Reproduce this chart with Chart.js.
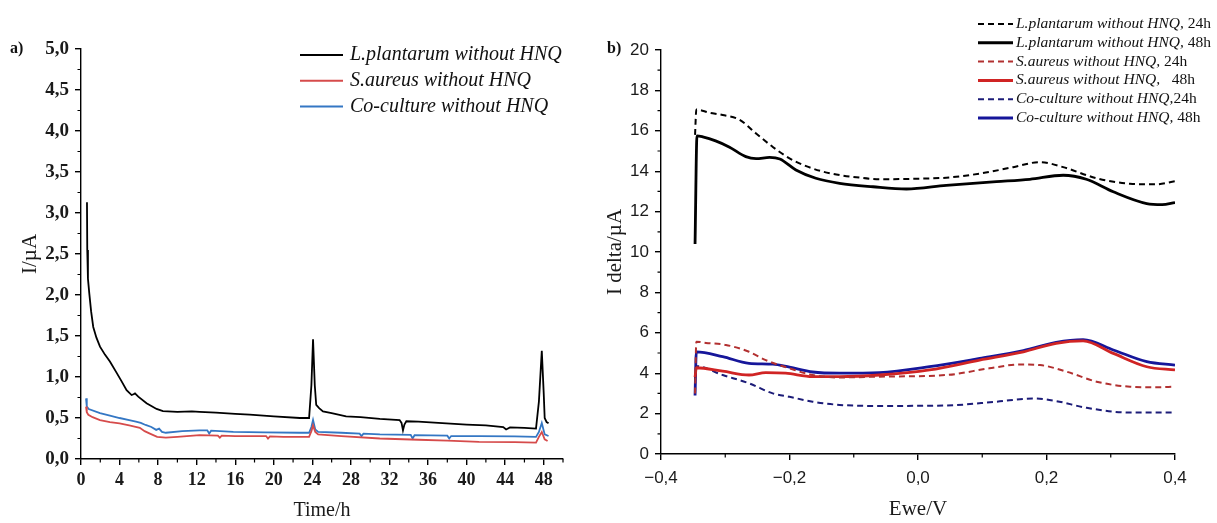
<!DOCTYPE html>
<html>
<head>
<meta charset="utf-8">
<title>Chronoamperometry and DPV without HNQ</title>
<script src="https://cdn.jsdelivr.net/npm/chart.js"></script>
<style>
  html, body { margin: 0; padding: 0; background: #fff; }
  #wrap { position: relative; width: 1217px; height: 523px; }
  #chartA { position: absolute; left: 0; top: 0; }
  #chartB { position: absolute; left: 600px; top: 0; }
</style>
</head>
<body>
<div id="wrap">
  <canvas id="chartA" width="600" height="523"></canvas>
  <canvas id="chartB" width="617" height="523"></canvas>
</div>
<script>
// ---- panel a: current vs time (h, uA) ----
const lpTime = [0.62, 0.65, 0.72, 0.86, 1.05, 1.27, 1.6, 1.97, 2.5, 3.0, 3.7, 4.2, 4.73, 5.25, 5.45, 5.6, 5.94, 6.8, 7.84, 8.5,
  10, 11.5, 12.3, 14, 16, 17.5, 20, 22.7, 23.66, 23.9, 24.07, 24.25, 24.4, 24.7, 25.1, 26, 27.5, 29, 31, 33.05,
  33.25, 33.4, 33.55, 33.75, 35, 37.9, 40, 42, 43.8, 44.1, 44.5, 46, 47.2, 47.5, 47.8, 48.0, 48.1, 48.3, 48.5];
const lpCurrent = [3.13, 2.55, 2.2, 2.02, 1.8, 1.61, 1.48, 1.37, 1.27, 1.19, 1.05, 0.95, 0.84, 0.78, 0.79, 0.80, 0.76, 0.68, 0.61, 0.585,
  0.575, 0.58, 0.575, 0.565, 0.55, 0.54, 0.52, 0.50, 0.50, 0.9, 1.46, 0.9, 0.66, 0.62, 0.58, 0.56, 0.52, 0.51, 0.49, 0.475,
  0.44, 0.35, 0.42, 0.46, 0.455, 0.435, 0.42, 0.41, 0.39, 0.36, 0.385, 0.38, 0.37, 0.7, 1.32, 0.8, 0.5, 0.45, 0.435];

const saTime = [0.52, 0.6, 0.76, 1.2, 1.97, 3.0, 4.0, 5.0, 6.1, 6.6, 7.15, 7.9, 8.8, 10, 12.3, 14.2, 14.4, 14.6, 16, 19.2,
  19.4, 19.6, 21, 23.66, 23.9, 24.07, 24.3, 24.6, 27, 31, 35, 38, 41.3, 45, 47.2, 47.5, 47.8, 48.1, 48.4];
const saCurrent = [0.64, 0.57, 0.54, 0.51, 0.475, 0.45, 0.435, 0.41, 0.38, 0.34, 0.31, 0.27, 0.26, 0.27, 0.29, 0.285, 0.26, 0.285, 0.28, 0.28,
  0.25, 0.275, 0.27, 0.27, 0.34, 0.41, 0.33, 0.30, 0.28, 0.25, 0.235, 0.225, 0.21, 0.205, 0.20, 0.27, 0.33, 0.24, 0.22];

const ccTime = [0.52, 0.6, 0.8, 1.97, 3.0, 4.0, 5.0, 5.7, 6.2, 6.7, 7.3, 7.8, 8.1, 8.4, 8.8, 10.5, 12.3, 13.1, 13.3, 13.5,
  15.8, 19, 22.7, 23.66, 23.9, 24.07, 24.3, 24.6, 27, 28.9, 29.1, 29.3, 31, 34.2, 34.4, 34.6, 38.0, 38.2, 38.4, 41.3,
  45, 47.2, 47.5, 47.8, 48.1, 48.5];
const ccCurrent = [0.74, 0.64, 0.61, 0.56, 0.53, 0.50, 0.475, 0.455, 0.44, 0.415, 0.39, 0.355, 0.37, 0.33, 0.32, 0.34, 0.35, 0.35, 0.31, 0.345,
  0.33, 0.325, 0.32, 0.32, 0.39, 0.475, 0.36, 0.33, 0.32, 0.31, 0.28, 0.31, 0.30, 0.295, 0.25, 0.29, 0.285, 0.25, 0.28, 0.28,
  0.275, 0.27, 0.33, 0.44, 0.30, 0.28];

// ---- panel b: I delta vs Ewe (V, uA) ----
const lp24E = [-0.347, -0.345, -0.325, -0.304, -0.278, -0.252, -0.226, -0.2, -0.174, -0.148, -0.12, -0.096, -0.06, -0.013, 0.044, 0.1, 0.148, 0.19, 0.226, 0.278, 0.33, 0.37, 0.4];
const lp24I = [15.8, 17.05, 16.9, 16.78, 16.55, 15.87, 15.2, 14.64, 14.25, 13.98, 13.8, 13.7, 13.6, 13.62, 13.68, 13.9, 14.2, 14.45, 14.2, 13.65, 13.38, 13.35, 13.5];
const lp48E = [-0.347, -0.344, -0.335, -0.315, -0.294, -0.268, -0.252, -0.231, -0.215, -0.19, -0.159, -0.122, -0.07, -0.018, 0.044, 0.122, 0.174, 0.226, 0.262, 0.304, 0.356, 0.38, 0.4];
const lp48I = [10.4, 15.75, 15.7, 15.5, 15.2, 14.72, 14.62, 14.68, 14.6, 14.06, 13.65, 13.4, 13.23, 13.12, 13.3, 13.48, 13.6, 13.8, 13.6, 12.98, 12.4, 12.35, 12.45];
const sa24E = [-0.347, -0.345, -0.33, -0.299, -0.263, -0.237, -0.2, -0.164, -0.122, -0.06, 0.044, 0.111, 0.158, 0.19, 0.231, 0.278, 0.33, 0.37, 0.4];
const sa24I = [3.0, 5.56, 5.5, 5.40, 5.06, 4.65, 4.24, 3.91, 3.79, 3.83, 3.91, 4.24, 4.43, 4.4, 4.08, 3.58, 3.33, 3.3, 3.33];
const sa48E = [-0.347, -0.345, -0.304, -0.263, -0.237, -0.206, -0.164, -0.122, -0.06, 0.018, 0.096, 0.164, 0.215, 0.257, 0.304, 0.356, 0.4];
const sa48I = [3.8, 4.27, 4.1, 3.91, 4.03, 4.0, 3.83, 3.83, 3.91, 4.16, 4.65, 5.06, 5.48, 5.6, 4.98, 4.32, 4.16];
const cc24E = [-0.347, -0.345, -0.304, -0.263, -0.226, -0.2, -0.164, -0.122, -0.06, 0.044, 0.122, 0.18, 0.215, 0.262, 0.33, 0.4];
const cc24I = [3.7, 4.35, 3.91, 3.5, 3.0, 2.83, 2.59, 2.43, 2.38, 2.4, 2.59, 2.75, 2.62, 2.29, 2.05, 2.05];
const cc48E = [-0.347, -0.345, -0.304, -0.263, -0.226, -0.2, -0.164, -0.122, -0.06, 0.018, 0.096, 0.164, 0.215, 0.257, 0.304, 0.356, 0.4];
const cc48I = [2.9, 5.06, 4.82, 4.49, 4.45, 4.3, 4.06, 4.0, 4.03, 4.32, 4.73, 5.12, 5.53, 5.66, 5.15, 4.57, 4.4];

const serif = "'Liberation Serif', 'Times New Roman', serif";
const sans = "'Liberation Sans', Arial, sans-serif";

function pts(xs, ys) { return xs.map((x, i) => ({ x: x, y: ys[i] })); }

// decimal comma, real minus sign
function commaNum(v, digits) {
  if (Math.abs(v) < 1e-9) v = 0;
  return v.toFixed(digits).replace('.', ',').replace('-', '\u2212');
}

// short ticks between the labelled ones
const minorTicks = {
  id: 'minorTicks',
  afterDraw(chart, args, o) {
    const ctx = chart.ctx, area = chart.chartArea;
    ctx.save();
    ctx.strokeStyle = '#000';
    ctx.lineWidth = o.width || 1.2;
    ['x', 'y'].forEach(id => {
      const sc = chart.scales[id], step = o[id];
      if (!sc || !step) return;
      const n = Math.round((sc.max - sc.min) / step);
      ctx.beginPath();
      for (let i = 1; i <= n; i += 2) {
        const p = sc.getPixelForValue(sc.min + i * step);
        if (id === 'x') { ctx.moveTo(p, area.bottom); ctx.lineTo(p, area.bottom + o.len); }
        else { ctx.moveTo(area.left, p); ctx.lineTo(area.left - o.len, p); }
      }
      ctx.stroke();
    });
    ctx.restore();
  }
};

// legend drawn inside the plot, like the original figure
const sideLegend = {
  id: 'sideLegend',
  afterDraw(chart, args, o) {
    const ctx = chart.ctx;
    chart.data.datasets.forEach((ds, i) => {
      const y = o.top + i * o.gap;
      ctx.save();
      ctx.strokeStyle = ds.borderColor;
      ctx.lineWidth = ds.borderDash ? o.dashWidth : o.lineWidth;
      ctx.setLineDash(ds.borderDash || []);
      ctx.beginPath();
      ctx.moveTo(o.x0, y);
      ctx.lineTo(o.x1, y);
      ctx.stroke();
      ctx.setLineDash([]);
      let label = ds.label, tail = '';
      if (o.splitTail) {
        const k = label.lastIndexOf(',');
        tail = label.slice(k + 1);
        label = label.slice(0, k + 1);
      }
      ctx.fillStyle = '#111';
      ctx.textBaseline = 'middle';
      ctx.font = 'italic ' + o.size + 'px ' + serif;
      ctx.fillText(label, o.textX, y);
      if (tail) {
        const w = ctx.measureText(label).width;
        ctx.font = o.size + 'px ' + serif;
        ctx.fillText(tail, o.textX + w, y);
      }
      ctx.restore();
    });
  }
};

const panelTag = {
  id: 'panelTag',
  afterDraw(chart, args, o) {
    const ctx = chart.ctx;
    ctx.save();
    ctx.font = 'bold ' + o.size + 'px ' + serif;
    ctx.fillStyle = '#111';
    ctx.textBaseline = 'middle';
    ctx.fillText(o.text, o.x, o.y);
    ctx.restore();
  }
};

function axisGrid() {
  return { display: true, drawOnChartArea: false, drawTicks: true, tickLength: 6, color: '#000', lineWidth: 1.4 };
}

Chart.defaults.color = '#1a1a1a';

// ---- panel a ----
new Chart('chartA', {
  type: 'line',
  data: {
    datasets: [
      { label: 'L.plantarum without HNQ', data: pts(lpTime, lpCurrent), borderColor: '#000000', borderWidth: 1.8 },
      { label: 'S.aureus without HNQ', data: pts(saTime, saCurrent), borderColor: '#d64b4b', borderWidth: 1.8 },
      { label: 'Co-culture without HNQ', data: pts(ccTime, ccCurrent), borderColor: '#3477c4', borderWidth: 1.8 }
    ]
  },
  options: {
    responsive: false,
    animation: false,
    events: [],
    elements: { point: { radius: 0 }, line: { tension: 0 } },
    layout: { padding: { left: 0, top: 49, right: 37, bottom: 0 } },
    plugins: {
      legend: { display: false },
      tooltip: { enabled: false },
      minorTicks: { x: 2, y: 0.25, len: 3.5 },
      sideLegend: { x0: 300, x1: 343, textX: 350, top: 55, gap: 25.8, size: 20, lineWidth: 2, dashWidth: 2 },
      panelTag: { text: 'a)', x: 10, y: 49, size: 16 }
    },
    scales: {
      x: {
        type: 'linear', min: 0, max: 50,
        afterFit: s => { s.height = 64; },
        ticks: {
          stepSize: 4, includeBounds: false, maxRotation: 0, autoSkip: false, padding: 5,
          font: { family: serif, size: 18, weight: 'bold' },
          callback: v => String(v)
        },
        grid: axisGrid(),
        border: { display: true, color: '#000', width: 1.4 },
        title: { display: true, text: 'Time/h', font: { family: serif, size: 20 }, padding: { top: 0, bottom: 0 } }
      },
      y: {
        type: 'linear', min: 0, max: 5,
        afterFit: s => { s.width = 81; },
        ticks: {
          stepSize: 0.5, autoSkip: false, padding: 6,
          font: { family: serif, size: 19, weight: 'bold' },
          callback: v => commaNum(v, 1)
        },
        grid: axisGrid(),
        border: { display: true, color: '#000', width: 1.4 },
        title: { display: true, text: 'I/\u00b5A', font: { family: serif, size: 21 }, padding: { top: 18, bottom: 0 } }
      }
    }
  },
  plugins: [minorTicks, sideLegend, panelTag]
});

// ---- panel b ----
const dash = [6, 4];
new Chart('chartB', {
  type: 'line',
  data: {
    datasets: [
      { label: 'L.plantarum without HNQ, 24h', data: pts(lp24E, lp24I), borderColor: '#000000', borderWidth: 2, borderDash: dash },
      { label: 'L.plantarum without HNQ, 48h', data: pts(lp48E, lp48I), borderColor: '#000000', borderWidth: 2.8 },
      { label: 'S.aureus without HNQ, 24h', data: pts(sa24E, sa24I), borderColor: '#b23030', borderWidth: 2, borderDash: dash },
      { label: 'S.aureus without HNQ,   48h', data: pts(sa48E, sa48I), borderColor: '#d02424', borderWidth: 2.8 },
      { label: 'Co-culture without HNQ,24h', data: pts(cc24E, cc24I), borderColor: '#1c1c78', borderWidth: 2, borderDash: dash },
      { label: 'Co-culture without HNQ, 48h', data: pts(cc48E, cc48I), borderColor: '#16169a', borderWidth: 2.8 }
    ]
  },
  options: {
    responsive: false,
    animation: false,
    events: [],
    elements: { point: { radius: 0 }, line: { cubicInterpolationMode: 'monotone' } },
    layout: { padding: { left: 0, top: 50, right: 42, bottom: 0 } },
    plugins: {
      legend: { display: false },
      tooltip: { enabled: false },
      minorTicks: { x: 0.1, y: 1, len: 3.5 },
      sideLegend: { x0: 378, x1: 413, textX: 416, top: 24, gap: 18.8, size: 15.5, lineWidth: 3, dashWidth: 2, splitTail: true },
      panelTag: { text: 'b)', x: 7, y: 49, size: 16 }
    },
    scales: {
      x: {
        type: 'linear', min: -0.4, max: 0.4,
        afterFit: s => { s.height = 69; },
        ticks: {
          stepSize: 0.2, maxRotation: 0, autoSkip: false, padding: 8,
          font: { family: sans, size: 17 },
          callback: v => commaNum(v, 1)
        },
        grid: axisGrid(),
        border: { display: true, color: '#000', width: 1.4 },
        title: { display: true, text: 'Ewe/V', font: { family: serif, size: 21 }, padding: { top: 0, bottom: 1 } }
      },
      y: {
        type: 'linear', min: 0, max: 20,
        afterFit: s => { s.width = 61; },
        ticks: {
          stepSize: 2, autoSkip: false, padding: 6,
          font: { family: sans, size: 17 },
          callback: v => String(v)
        },
        grid: axisGrid(),
        border: { display: true, color: '#000', width: 1.4 },
        title: { display: true, text: 'I delta/\u00b5A', font: { family: serif, size: 21 }, padding: { top: 3, bottom: 0 } }
      }
    }
  },
  plugins: [minorTicks, sideLegend, panelTag]
});
</script>
</body>
</html>
